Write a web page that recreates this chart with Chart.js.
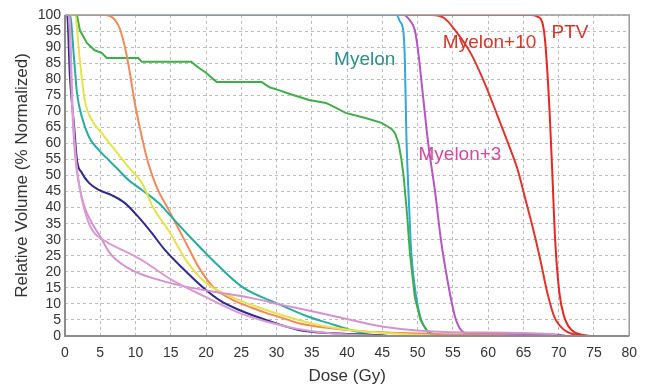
<!DOCTYPE html>
<html>
<head>
<meta charset="utf-8">
<script src="https://cdn.jsdelivr.net/npm/chart.js@4"></script>
<style>
  html, body { margin: 0; padding: 0; background: #fff; }
  #wrap { width: 646px; height: 389px; }
</style>
</head>
<body>
<div id="wrap"><canvas id="dvh" width="646" height="389"></canvas></div>
<script>
// ── Data (dose in Gy, volume in % normalized) ───────────────────────────────

const ptvDose = [0, 66, 67, 67.7, 68.1, 68.7, 69.1, 69.5, 70.1, 70.8, 71.4, 72.2, 74.5];
const ptvVol  = [100, 100, 99.5, 97.5, 91.3, 70.4, 50.5, 29.9, 13.4, 5.9, 3, 1.2, 0];

const myelon10Dose = [0, 52, 53.8, 55.3, 57.5, 59.5, 61.4, 63.2, 64.2, 65.2, 66.3, 67.4, 68.4, 69.4, 70.8, 72.6, 74];
const myelon10Vol  = [100, 100, 99, 95.3, 88.2, 78.8, 68.2, 57.9, 51.7, 43.3, 34, 23.7, 13.4, 5.9, 1.9, 0.3, 0];

const myelon3Dose = [0, 48, 49, 49.6, 50.1, 50.8, 51.5, 52.5, 53.3, 54.3, 55.3, 56.1, 57.1, 62, 70, 71];
const myelon3Vol  = [100, 100, 98, 95.3, 88.2, 74, 60, 44.5, 30, 16.5, 6, 2, 0.8, 0.7, 0.4, 0];

const myelonDose = [0, 47, 47.5, 48, 48.2, 48.4, 48.6, 48.8, 49.1, 49.8, 50.5, 51.2, 51.9, 52.9];
const myelonVol  = [100, 100, 98, 94.4, 85, 63, 50, 40, 25.9, 12.1, 5, 2, 1, 0];

const greenDose = [0, 1.7, 2.1, 3.1, 4.2, 5.2, 5.9, 10.4, 10.9, 17.9, 19, 20, 21.5, 27.9, 29, 30.3, 32, 34.6, 37, 38.5, 39.8, 42.6, 44.9, 46.3, 46.8, 47.3, 47.7, 48, 48.5, 48.9, 49.3, 49.6, 50.4, 51.5, 52.6];
const greenVol  = [100, 100, 95.3, 91.3, 89, 88.2, 86.6, 86.6, 85.4, 85.4, 83.5, 82, 79.1, 79.1, 77.5, 76.6, 75.3, 73.5, 72.6, 71, 69.5, 67.9, 66.4, 64.5, 63.2, 60, 55, 50, 38, 26, 18, 12.1, 5, 1, 0];

const orangeDose = [0, 4.2, 5.6, 7.6, 8.5, 9.2, 9.9, 10.9, 11.8, 13, 14.7, 16.2, 17.5, 18.8, 20.9, 22, 24, 26.5, 28.5, 31, 33.1, 37.4, 42, 48, 55, 62, 63];
const orangeVol  = [100, 100, 100, 96.6, 90, 82, 72.6, 62, 53.9, 46.4, 39.3, 33, 27.5, 22, 15.5, 13.5, 11, 8.8, 7.2, 5.5, 4, 2.5, 1.5, 0.9, 0.5, 0.3, 0];

const yellowDose = [0, 1.4, 2.1, 2.8, 3.8, 5.2, 7.1, 9, 10.9, 12.5, 14.8, 17.2, 20, 23.7, 28.5, 33.1, 37.4, 42, 48, 53];
const yellowVol  = [100, 100, 86, 73.5, 67.3, 63.2, 57.9, 52.6, 47.7, 40, 32.5, 23.5, 16.5, 12.1, 8.1, 5, 2.8, 1.5, 0.6, 0];

const tealDose = [0, 0.7, 1.3, 1.7, 2.4, 3.4, 4.8, 6.2, 7.6, 9, 10.9, 13.3, 15.1, 17.2, 20.9, 25.1, 29.9, 34.6, 37.4, 40, 43, 46];
const tealVol  = [100, 100, 86, 75.7, 68.2, 62, 57.9, 54.8, 51.7, 48.6, 45.5, 41.4, 37.1, 32.1, 23.7, 15.3, 10.3, 5.9, 4, 2.2, 0.5, 0];

const navyDose = [0, 0.3, 0.7, 1.3, 1.7, 2.4, 3.4, 4.8, 6.6, 8.5, 10.4, 12.3, 14.1, 16.5, 20, 22, 24.7, 28.5, 33.1, 37.4, 44, 46];
const navyVol  = [100, 100, 80.7, 65.1, 54.8, 50.8, 47.7, 45.5, 43.9, 41.4, 37.1, 32.1, 27, 21.5, 14.3, 11, 8.1, 5, 1.9, 0.9, 0.3, 0];

const pinkADose = [0, 0.5, 1, 1.4, 2, 2.8, 4, 5, 6.3, 8, 10, 13.4, 17.2, 21.4, 26.5, 30.7, 35.5, 40.6, 45.4, 54.7, 68.8, 70];
const pinkAVol  = [100, 100, 72, 57, 47, 40, 34.5, 31, 26, 22.5, 20, 17.4, 15.3, 13.7, 11.8, 9.7, 7.5, 5, 2.8, 1.2, 0.6, 0];

const pinkBDose = [0, 0.6, 1.1, 1.6, 2.1, 2.8, 3.5, 4.2, 5, 6, 7, 10.6, 15.2, 20, 24.7, 28.5, 33, 38, 45];
const pinkBVol  = [100, 100, 70, 54, 46, 39, 34.5, 32, 30.5, 29.2, 28, 24, 17.4, 12.1, 7.2, 4.5, 2.2, 0.8, 0];

const doseTicks   = { min: 0, max: 80, step: 5 };
const volumeTicks = { min: 0, max: 100, step: 5 };

// ── Chart ───────────────────────────────────────────────────────────────────

const pts = (xs, ys) => xs.map((x, i) => ({ x, y: ys[i] }));

function curve(label, xs, ys, color, stepped) {
  return {
    label,
    data: pts(xs, ys),
    borderColor: color,
    borderWidth: 2,
    pointRadius: 0,
    fill: false,
    tension: 0,
    cubicInterpolationMode: stepped ? 'default' : 'monotone',
  };
}

// labels placed in data units so they follow the scales
const curveLabels = [
  { text: 'Myelon',    x: 42.5, y: 86,   color: '#2f8e8b' },
  { text: 'Myelon+10', x: 60.2, y: 91.3, color: '#d8352a' },
  { text: 'PTV',       x: 71.6, y: 94.4, color: '#d8352a' },
  { text: 'Myelon+3',  x: 56,   y: 56.4, color: '#d4499c' },
];

const framePlugin = {
  id: 'frameAndLabels',
  afterDatasetsDraw(chart) {
    const { ctx, chartArea: a, scales } = chart;
    ctx.save();
    ctx.strokeStyle = '#9a9a9a';
    ctx.lineWidth = 1.5;
    ctx.beginPath();
    ctx.moveTo(a.left, a.top);
    ctx.lineTo(a.right, a.top);
    ctx.lineTo(a.right, a.bottom);
    ctx.stroke();
    ctx.strokeStyle = '#8c8c8c';
    ctx.lineWidth = 2;
    ctx.beginPath();
    ctx.moveTo(a.left, a.top);
    ctx.lineTo(a.left, a.bottom);
    ctx.lineTo(a.right, a.bottom);
    ctx.stroke();

    ctx.font = '19px "Liberation Sans", Arial, sans-serif';
    ctx.textAlign = 'center';
    ctx.textBaseline = 'middle';
    for (const l of curveLabels) {
      ctx.fillStyle = l.color;
      ctx.fillText(l.text, scales.x.getPixelForValue(l.x), scales.y.getPixelForValue(l.y));
    }
    ctx.restore();
  },
};

const tickFont  = { family: '"Liberation Sans", Arial, sans-serif', size: 14 };
const titleFont = { family: '"Liberation Sans", Arial, sans-serif', size: 17 };
const gridOpts  = { color: '#bcbcbc', lineWidth: 1, drawTicks: false };
const borderOpts = { display: false, dash: [3, 3] };

new Chart(document.getElementById('dvh'), {
  type: 'line',
  data: {
    datasets: [
      curve('Pink B',    pinkBDose,    pinkBVol,    '#d99bd3'),
      curve('Pink A',    pinkADose,    pinkAVol,    '#d493cf'),
      curve('Navy',      navyDose,     navyVol,     '#2f2a8c'),
      curve('Yellow',    yellowDose,   yellowVol,   '#e6e34a'),
      curve('Teal',      tealDose,     tealVol,     '#27ada0'),
      curve('Orange',    orangeDose,   orangeVol,   '#f08a5c'),
      curve('Green',     greenDose,    greenVol,    '#3fae4a', true),
      curve('Myelon',    myelonDose,   myelonVol,   '#33a6dc'),
      curve('Myelon+3',  myelon3Dose,  myelon3Vol,  '#b456c2'),
      curve('Myelon+10', myelon10Dose, myelon10Vol, '#e0352b'),
      curve('PTV',       ptvDose,      ptvVol,      '#e8261f'),
    ],
  },
  options: {
    responsive: false,
    animation: false,
    layout: { padding: { left: 0, right: 14, top: 15, bottom: 0 } },
    plugins: { legend: { display: false }, tooltip: { enabled: false } },
    scales: {
      x: {
        type: 'linear',
        min: doseTicks.min, max: doseTicks.max,
        ticks: { stepSize: doseTicks.step, autoSkip: false, color: '#333', font: tickFont, padding: 9, maxRotation: 0 },
        grid: gridOpts,
        border: borderOpts,
        title: { display: true, text: 'Dose (Gy)', color: '#333', font: titleFont, padding: { top: 0, bottom: 2 } },
        afterFit: s => { s.height = 53; },
      },
      y: {
        type: 'linear',
        min: volumeTicks.min, max: volumeTicks.max,
        ticks: { stepSize: volumeTicks.step, autoSkip: false, color: '#333', font: tickFont, padding: 4 },
        grid: gridOpts,
        border: borderOpts,
        title: { display: true, text: 'Relative Volume (% Normalized)', color: '#333', font: titleFont, padding: { top: 12, bottom: 0 } },
        afterFit: s => { s.width = 65; },
      },
    },
  },
  plugins: [framePlugin],
});
</script>
</body>
</html>
